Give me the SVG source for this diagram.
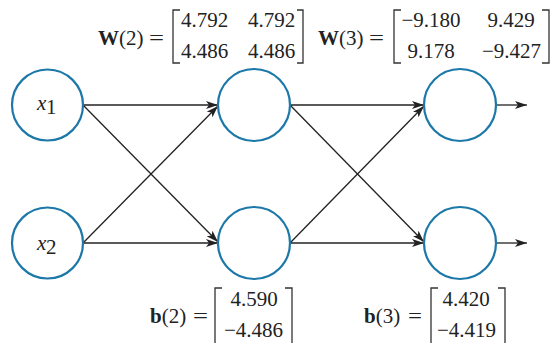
<svg xmlns="http://www.w3.org/2000/svg" width="552" height="343" viewBox="0 0 552 343">
<style>
.n{fill:none;stroke:#1b78a8;stroke-width:2.2}
.c{stroke:#222;stroke-width:1.3;fill:none;marker-end:url(#ah)}
.t{font-family:"Liberation Serif","Times New Roman",serif;font-size:21px;fill:#222}
.m{text-anchor:middle}
.br{fill:none;stroke:#333;stroke-width:1.3}
</style>
<defs>
<marker id="ah" viewBox="0 0 12 8" refX="12" refY="4" markerWidth="12" markerHeight="8" markerUnits="userSpaceOnUse" orient="auto">
<path d="M0,0 L12,4 L0,8 L3,4 Z" fill="#222"/>
</marker>
</defs>
<rect width="552" height="343" fill="#fff"/>
<g id="connectors">
<line class="c" x1="83" y1="105" x2="218" y2="105"/>
<line class="c" x1="83" y1="105" x2="218" y2="242"/>
<line class="c" x1="83" y1="243" x2="218" y2="106"/>
<line class="c" x1="83" y1="243" x2="218" y2="243"/>
<line class="c" x1="290" y1="105" x2="424" y2="105"/>
<line class="c" x1="290" y1="105" x2="424" y2="242"/>
<line class="c" x1="290" y1="243" x2="424" y2="106"/>
<line class="c" x1="290" y1="243" x2="424" y2="243"/>
<line class="c" x1="496" y1="105" x2="527" y2="105"/>
<line class="c" x1="496" y1="243" x2="527" y2="243"/>
</g>
<g id="x1"><circle class="n" cx="47.5" cy="105" r="35.5"/><text class="t" x="37" y="110" font-style="italic">x</text><text class="t" x="46" y="114" font-size="15">1</text></g>
<g id="x2"><circle class="n" cx="47.5" cy="243" r="35.5"/><text class="t" x="37" y="250" font-style="italic">x</text><text class="t" x="46" y="254" font-size="15">2</text></g>
<g id="h1"><circle class="n" cx="254" cy="105" r="36"/></g>
<g id="h2"><circle class="n" cx="254" cy="243" r="36"/></g>
<g id="o1"><circle class="n" cx="460" cy="105" r="36"/></g>
<g id="o2"><circle class="n" cx="460" cy="243" r="36"/></g>
<g id="W2">
<text class="t" x="98" y="45"><tspan font-weight="bold">W</tspan>(2)</text>
<text class="t" x="149" y="45" textLength="15" lengthAdjust="spacingAndGlyphs">=</text>
<path class="br" d="M180,10 H173 V63 H180 M297,10 H303 V63 H297"/>
<text class="t m" x="204.5" y="27">4.792</text>
<text class="t m" x="271.5" y="27">4.792</text>
<text class="t m" x="204.5" y="58">4.486</text>
<text class="t m" x="271.5" y="58">4.486</text>
</g>
<g id="W3">
<text class="t" x="318" y="45"><tspan font-weight="bold">W</tspan>(3)</text>
<text class="t" x="369" y="45" textLength="15" lengthAdjust="spacingAndGlyphs">=</text>
<path class="br" d="M401,10 H394 V63 H401 M542,10 H549 V63 H542"/>
<text class="t m" x="431" y="27">−9.180</text>
<text class="t m" x="431" y="58">9.178</text>
<text class="t m" x="511" y="27">9.429</text>
<text class="t m" x="511.5" y="58">−9.427</text>
</g>
<g id="b2">
<text class="t" x="150" y="323"><tspan font-weight="bold">b</tspan>(2)</text>
<text class="t" x="193" y="323" textLength="15" lengthAdjust="spacingAndGlyphs">=</text>
<path class="br" d="M222,288 H215 V345 M285,288 H292 V345"/>
<text class="t m" x="254" y="306">4.590</text>
<text class="t m" x="253.5" y="337">−4.486</text>
</g>
<g id="b3">
<text class="t" x="364" y="323"><tspan font-weight="bold">b</tspan>(3)</text>
<text class="t" x="408" y="323" textLength="14" lengthAdjust="spacingAndGlyphs">=</text>
<path class="br" d="M438,288 H431 V345 M498,288 H505 V345"/>
<text class="t m" x="466" y="306">4.420</text>
<text class="t m" x="466.5" y="337">−4.419</text>
</g>
</svg>
